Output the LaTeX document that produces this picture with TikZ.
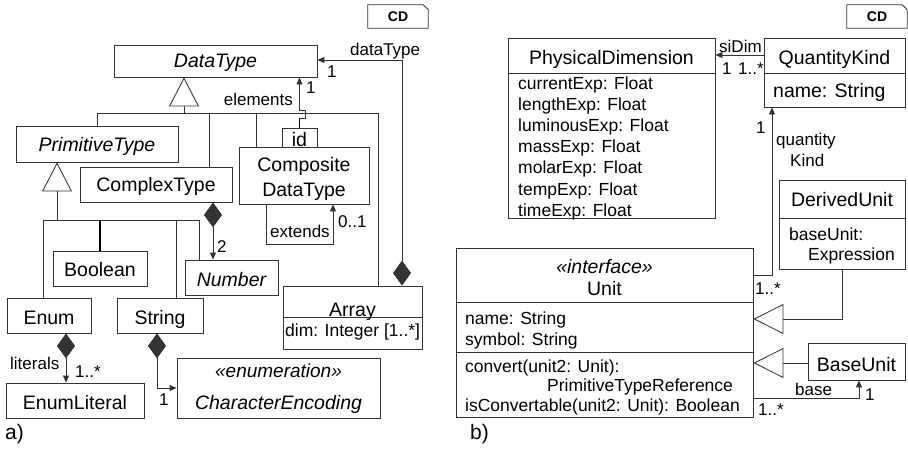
\documentclass[tikz,border=0pt]{standalone}
\usepackage{fontspec}
\setmainfont{Liberation Sans}
\usetikzlibrary{arrows.meta,fit}

\tikzset{
  ln/.style={draw=black!80, line width=0.85pt},
  thick line/.style={draw=black, line width=1.8pt},
  box/.style={ln, rectangle, inner sep=0pt},
  title/.style={font=\fontsize{19.5}{24}\selectfont, inner sep=0pt, anchor=base},
  attr/.style={font=\fontsize{17.5}{21}\selectfont, inner sep=0pt, anchor=base west},
  lbl/.style={font=\fontsize{17}{19}\selectfont, inner sep=0pt, anchor=base west},
  nav/.style={ln, -{Triangle[length=7pt,width=6pt]}},
  comp/.style={ln, {Diamond[length=25pt,width=18pt]}-{Triangle[length=7pt,width=6pt]}},
  inherit/.style={ln, -{Triangle[open, length=29pt, width=30pt, fill=white]}},
  cdtag/.style={inner sep=0pt, minimum width=60pt, minimum height=23pt,
                font=\fontsize{14}{16}\selectfont\bfseries},
}

\begin{document}
\begin{tikzpicture}[x=1pt, y=-1pt]
\useasboundingbox (0,0) rectangle (908,455);

% ---------------- a) data types ----------------
\node[cdtag] (cda) at (398,16.5) {CD};
\draw[ln] (cda.north west) -- ([xshift=-5pt]cda.north east)
  -- ([yshift=-5pt]cda.north east) -- (cda.south east) -- (cda.south west) -- cycle;

\node[box, fit={(114,45)(317,77)}] (dt) {};
\node[title] (dt-t) at (215.5,67) {\itshape DataType};

\node[box, fit={(16,126)(178,162)}] (prim) {};
\node[title] (prim-t) at (97,151) {\itshape PrimitiveType};

\node[box, fit={(80,167)(232,202)}] (cx) {};
\node[title] (cx-t) at (156,191) {ComplexType};

\node[box, fit={(239,147)(369,204)}] (cds) {};
\node[title] (cds-t1) at (304,171) {Composite};
\node[title] (cds-t2) at (304,196) {DataType};

\node[box, fit={(282,128)(317,147)}] (id) {};
\node[title] (id-t) at (299.5,146) {id};

\node[box, fit={(185,260)(278,295)}] (num) {};
\node[title] (num-t) at (231.5,286) {\itshape Number};

\node[box, fit={(53,251)(147,286)}] (bool) {};
\node[title] (bool-t) at (100,276) {Boolean};

\node[box, fit={(283,286)(422,349)}] (arr) {};
\draw[ln] (arr.west |- 0,317) -- (arr.east |- 0,317);
\node[title] (arr-t) at (352.5,316) {Array};
\node[attr] (arr-a) at (285,336) {dim: Integer [1..*]};

\node[box, fit={(7,298)(91,333)}] (en) {};
\node[title] (en-t) at (49,324) {Enum};

\node[box, fit={(117,298)(203,333)}] (st) {};
\node[title] (st-t) at (160,324) {String};

\node[box, fit={(6,383)(144,418)}] (el) {};
\node[title] (el-t) at (75,409) {EnumLiteral};

\node[box, fit={(177,358)(380,418)}] (ce) {};
\node[title, font=\fontsize{19}{23}\selectfont] (ce-t1) at (278.5,377) {\itshape «enumeration»};
\node[title] (ce-t2) at (278.5,409) {\itshape CharacterEncoding};

% generalization to DataType
\draw[ln] (97,0 |- prim.north) -- (97,113) -- (378,113) -- (378,0 |- arr.north);
\draw[ln] (209,113) -- (209,0 |- cx.north);
\draw[ln] (256,113) -- (256,0 |- cds.north);
\draw[inherit] (184,113) -- (184,0 |- dt.south);

% generalization to PrimitiveType
\draw[ln] (43,0 |- en.north) -- (43,220) -- (199,220) -- (199,0 |- num.north);
\draw[ln] (176,220) -- (176,0 |- st.north);
\draw[thick line] (100,220) -- (100,0 |- bool.north);
\draw[inherit] (57,220) -- (57,0 |- prim.south);

% qualified association "elements"
\draw[thick line] (id.north) -- (299.5,118);
\draw[nav] (299.5,118) -- (305,118) -- (305,110) -- (299.5,110) -- (299.5,0 |- dt.south);
\node[lbl, anchor=base east] (elem-l) at (293,105) {elements};
\node[lbl] (elem-m) at (306,93) {1};

% association "dataType"
\draw[comp] (402,0 |- arr.north) -- (402,60) -- (dt.east |- 0,60);
\node[lbl] (dtp-l) at (350,55) {dataType};
\node[lbl] (dtp-m) at (327,77) {1};

% association "extends"
\draw[nav] (266,0 |- cds.south) -- (266,244) -- (333,244) -- (333,0 |- cds.south);
\node[lbl] (ext-l) at (270,237) {extends};
\node[lbl] (ext-m) at (338,227) {0..1};

% compositions
\draw[comp] (213,0 |- cx.south) -- (213,0 |- num.north);
\node[lbl] (cx-m) at (217,252) {2};

\draw[comp] (66,0 |- en.south) -- (66,0 |- el.north);
\node[lbl] (lit-l) at (10,369) {literals};
\node[lbl] (lit-m) at (75,377) {1..*};

\draw[comp] (157,0 |- st.south) -- (157,388) -- (ce.west |- 0,388);
\node[lbl] (enc-m) at (159,405) {1};

\node[title, anchor=base west, font=\fontsize{21}{24}\selectfont] (cap-a) at (5,439) {a)};

% ---------------- b) units ----------------
\node[cdtag] (cdb) at (877,16.5) {CD};
\draw[ln] (cdb.north west) -- ([xshift=-5pt]cdb.north east)
  -- ([yshift=-5pt]cdb.north east) -- (cdb.south east) -- (cdb.south west) -- cycle;

\node[box, fit={(508,38)(715,218)}] (pd) {};
\draw[ln] (pd.west |- 0,73) -- (pd.east |- 0,73);
\node[title] (pd-t) at (611.5,64) {PhysicalDimension};
\foreach \a [count=\i from 0] in {currentExp, lengthExp, luminousExp, massExp, molarExp, tempExp, timeExp}
  \node[attr] (pd-a\i) at (518,89.5+21.1*\i) {\a: Float};

\node[box, fit={(764,38)(905,107)}] (qk) {};
\draw[ln] (qk.west |- 0,73) -- (qk.east |- 0,73);
\node[title] (qk-t) at (834.5,64) {QuantityKind};
\node[title, anchor=base west] (qk-a) at (773,97) {name: String};

\node[box, fit={(779,180)(905,269)}] (du) {};
\draw[ln] (du.west |- 0,218) -- (du.east |- 0,218);
\node[title] (du-t) at (842,206) {DerivedUnit};
\node[attr] (du-a1) at (789,240) {baseUnit:};
\node[attr] (du-a2) at (808,260) {Expression};

\node[box, fit={(456,248)(753,417)}] (unit) {};
\draw[ln] (unit.west |- 0,302) -- (unit.east |- 0,302);
\draw[ln] (unit.west |- 0,352) -- (unit.east |- 0,352);
\node[title] (unit-s) at (604.5,273) {\itshape «interface»};
\node[title] (unit-t) at (604.5,295) {Unit};
\node[attr] (unit-a1) at (465,324) {name: String};
\node[attr] (unit-a2) at (465,345) {symbol: String};
\node[attr] (unit-o1) at (465,372) {convert(unit2: Unit):};
\node[attr] (unit-o2) at (547,391) {PrimitiveTypeReference};
\node[attr] (unit-o3) at (465,411) {isConvertable(unit2: Unit): Boolean};

\node[box, fit={(808,343)(905,380)}] (bu) {};
\node[title] (bu-t) at (856.5,371) {BaseUnit};

% association "siDim"
\draw[nav] (qk.west |- 0,55) -- (pd.east |- 0,55);
\node[lbl] (si-l) at (719,52) {siDim};
\node[lbl] (si-m1) at (722,74) {1};
\node[lbl] (si-m2) at (738,74) {1..*};

% association "quantityKind"
\draw[nav] (unit.east |- 0,275) -- (772,275) -- (772,0 |- qk.south);
\node[lbl] (qkd-m1) at (756,133) {1};
\node[lbl] (qkd-l1) at (776,145) {quantity};
\node[lbl] (qkd-l2) at (790,166) {Kind};
\node[lbl] (qkd-m2) at (755,294) {1..*};

% generalizations to Unit
\draw[inherit, -{Triangle[open, length=30pt, width=30pt, fill=white]}]
  (842,0 |- du.south) -- (842,319) -- (unit.east |- 0,319);
\draw[inherit, -{Triangle[open, length=30pt, width=30pt, fill=white]}]
  (bu.west |- 0,363) -- (unit.east |- 0,363);

% association "base"
\draw[nav] (unit.east |- 0,398) -- (859,398) -- (859,0 |- bu.south);
\node[lbl] (base-l) at (795,395) {base};
\node[lbl] (base-m1) at (865,400) {1};
\node[lbl] (base-m2) at (758,415) {1..*};

\node[title, anchor=base west, font=\fontsize{21}{24}\selectfont] (cap-b) at (470,439) {b)};
\end{tikzpicture}
\end{document}
